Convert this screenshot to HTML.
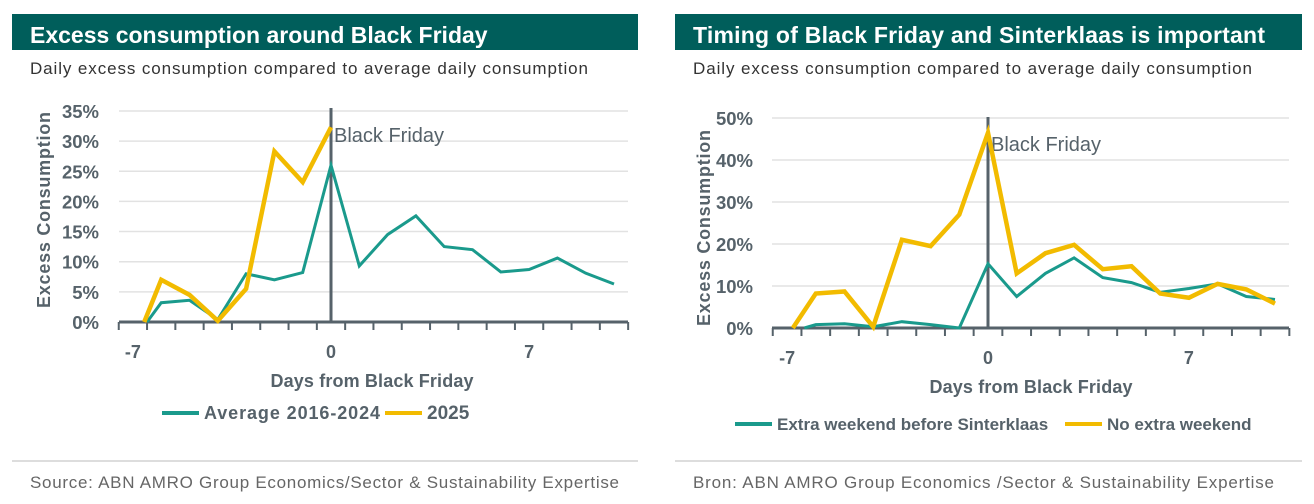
<!DOCTYPE html>
<html><head><meta charset="utf-8"><style>
body{margin:0;background:#fff;}
svg{display:block;font-family:"Liberation Sans",sans-serif;}
</style></head><body>
<svg id="s" width="1314" height="504" viewBox="0 0 1314 504">
<rect x="12" y="14" width="626" height="36" fill="#005e5b"/>
<text x="30" y="43" font-size="23" font-weight="bold" fill="#fff">Excess consumption around Black Friday</text>
<text x="30" y="74" font-size="17" fill="#333" textLength="558">Daily excess consumption compared to average daily consumption</text>
<rect x="675" y="14" width="627" height="36" fill="#005e5b"/>
<text x="693" y="43" font-size="23" font-weight="bold" fill="#fff" textLength="572">Timing of Black Friday and Sinterklaas is important</text>
<text x="693" y="74" font-size="17" fill="#333" textLength="559">Daily excess consumption compared to average daily consumption</text>
<line x1="12" y1="461" x2="638" y2="461" stroke="#bbb"/>
<line x1="675" y1="461" x2="1302" y2="461" stroke="#bbb"/>
<text x="30" y="488" font-size="17" fill="#666" textLength="589">Source: ABN AMRO Group Economics/Sector &amp; Sustainability Expertise</text>
<text x="693" y="488" font-size="17" fill="#666" textLength="581">Bron: ABN  AMRO Group Economics /Sector &amp; Sustainability Expertise</text>
<g id="L"></g><g id="R"></g>
</svg>
<script>
const leftTealDays=[-6.5,-6,-5,-4,-3,-2,-1,0,1,2,3,4,5,6,7,8,9,10];
const leftTealVals=[0,3.2,3.6,0.4,8,7,8.2,26,9.3,14.5,17.6,12.5,12,8.3,8.7,10.6,8.1,6.3];
const leftGoldDays=[-6.6,-6,-5,-4,-3,-2,-1,0];
const leftGoldVals=[0,7,4.5,0.2,5.5,28.3,23.2,32.3];
const leftYTicks=[0,5,10,15,20,25,30,35];
const rightTealDays=[-6.4,-6,-5,-4,-3,-2,-1,0,1,2,3,4,5,6,7,8,9,10];
const rightTealVals=[0,0.8,1,0.3,1.5,0.8,0,15.3,7.5,13,16.7,12,10.8,8.5,9.4,10.5,7.5,6.8];
const rightGoldDays=[-6.8,-6,-5,-4,-3,-2,-1,0,1,2,3,4,5,6,7,8,9,10];
const rightGoldVals=[0,8.2,8.7,0.3,21,19.5,27,46.5,13,17.8,19.8,14,14.7,8.2,7.2,10.5,9.2,5.8];
const rightYTicks=[0,10,20,30,40,50];
const xLabels=[-7,0,7];
const NS="http://www.w3.org/2000/svg";
function mk(p,t,a){const e=document.createElementNS(NS,t);for(const k in a)e.setAttribute(k,a[k]);p.appendChild(e);return e;}
function chart(g,c){
 const X=d=>c.x0+d*c.step, Y=v=>c.y0-v*c.ppu;
 c.yt.forEach(v=>{
  const l=mk(g,'line',{x1:c.ax0,x2:c.ax1,y1:Y(v),y2:Y(v),stroke:'#e2e2e2','stroke-width':1.5});
  
  
  const t=mk(g,'text',{x:c.lx,y:Y(v)+7,'text-anchor':'end','font-size':18.5,'font-weight':'bold',fill:'#56626a'});t.textContent=v+'%';
  
  
 });
 const ax=mk(g,'line',{x1:c.ax0,x2:c.ax1,y1:c.y0,y2:c.y0,stroke:'#56626a','stroke-width':3});
 
 
 for(let d=-7.5;d<=10.6;d++){const tk=mk(g,'line',{x1:X(d),x2:X(d),y1:c.y0,y2:c.y0+8,stroke:'#56626a','stroke-width':2});
  
  }
 xLabels.forEach(d=>{const t=mk(g,'text',{x:X(d),y:c.y0+36,'text-anchor':'middle','font-size':18,'font-weight':'bold',fill:'#56626a'});t.textContent=d;
  
  });
 const vl=mk(g,'line',{x1:X(0),x2:X(0),y1:c.vtop,y2:c.y0,stroke:'#56626a','stroke-width':3});
 
 
 const bt=mk(g,'text',{x:X(0)+3,y:c.vtop+34,'font-size':20,fill:'#56626a'});bt.textContent='Black Friday';
 
 
 const pl=(ds,vs,col,w,n)=>{const p=mk(g,'polyline',{points:ds.map((d,i)=>X(d)+','+Y(vs[i])).join(' '),fill:'none',stroke:col,'stroke-width':w,'stroke-linejoin':'miter'});
  
  };
 pl(c.td,c.tv,'#1a9a8c',3,'series-teal');
 pl(c.gd,c.gv,'#f2bb00',4.5,'series-gold');
 const yt=mk(g,'text',{transform:`translate(${c.ytx},${c.yty}) rotate(-90)`,'text-anchor':'middle','font-size':18,'font-weight':'bold',fill:'#56626a',textLength:196});yt.textContent='Excess Consumption';
 
 
 const xt=mk(g,'text',{x:c.xtx,y:c.xty,'text-anchor':'middle','font-size':18,'font-weight':'bold',fill:'#56626a',textLength:203});xt.textContent='Days from Black Friday';
 
 
 c.leg.forEach(e=>{const l=mk(g,'line',{x1:e[0],x2:e[0]+37,y1:c.legy,y2:c.legy,stroke:e[2],'stroke-width':4});
  
  
  const a={x:e[0]+42,y:c.legy+6,'font-size':e[4],'font-weight':'bold',fill:'#56626a'};
  if(e[3])a.textLength=e[3];
  const t=mk(g,'text',a);t.textContent=e[1];
  
  });
}
chart(document.getElementById('L'),{x0:331,step:28.3,y0:322,ppu:6.03,ax0:119,ax1:628,lx:99,vtop:108,yt:leftYTicks,
 td:leftTealDays,tv:leftTealVals,gd:leftGoldDays,gv:leftGoldVals,ytx:50,yty:210,xtx:372,xty:387,legy:413,
 leg:[[162,'Average 2016-2024','#1a9a8c',176,18],[385,'2025','#f2bb00',0,19]]});
chart(document.getElementById('R'),{x0:988,step:28.7,y0:328,ppu:4.2,ax0:772,ax1:1289,lx:753,vtop:117,yt:rightYTicks,
 td:rightTealDays,tv:rightTealVals,gd:rightGoldDays,gv:rightGoldVals,ytx:710,yty:228,xtx:1031,xty:393,legy:424,
 leg:[[735,'Extra weekend before Sinterklaas','#1a9a8c',0,17],[1065,'No extra weekend','#f2bb00',0,17]]});
</script>
</body></html>
